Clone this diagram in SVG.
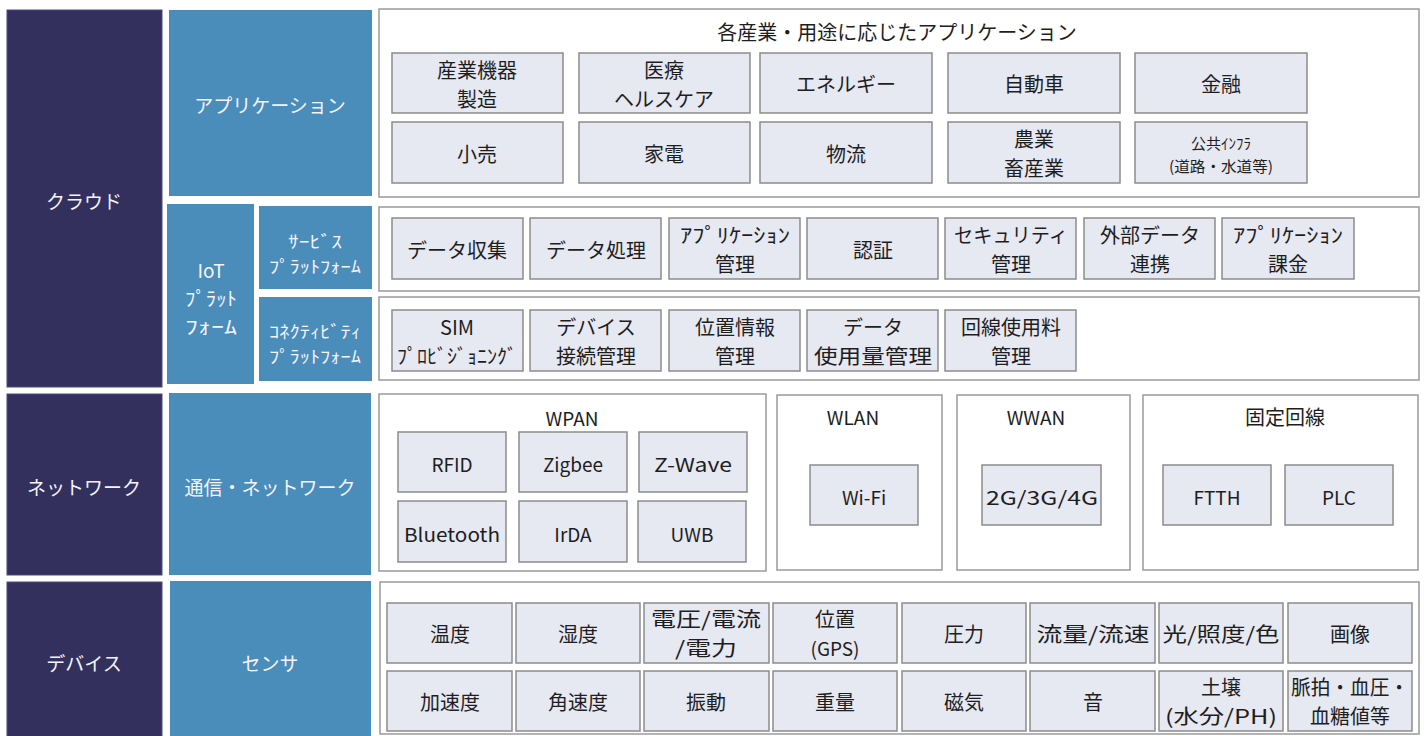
<svg xmlns="http://www.w3.org/2000/svg" width="1425" height="736" viewBox="0 0 1425 736">
<style>
.nav{fill:#33305e;stroke:#4d4a7c;stroke-width:1}
.blu{fill:#4a8cba}
.con{fill:#ffffff;stroke:#9a9a9a;stroke-width:1.5}
.btn{fill:#e6e8f2;stroke:#8c8c8c;stroke-width:1.5}
text{font-family:"Noto Sans CJK JP","Noto Sans",sans-serif;text-anchor:middle;dominant-baseline:central}
.w{fill:#f4f3fb;font-size:19px}
.ws{fill:#f4f3fb;font-size:17px}
.k{fill:#1e1e1e;font-size:20px}
.ks{fill:#1e1e1e;font-size:15px}
.kl{fill:#1e1e1e;font-size:19px}
</style>
<rect x="0" y="0" width="1425" height="736" fill="#ffffff"/>

<g id="layer-cloud">
  <rect class="nav" x="7" y="10" width="155" height="377"/>
  <text class="w" x="84" y="200">クラウド</text>
</g>
<g id="layer-network">
  <rect class="nav" x="7" y="394" width="155" height="181"/>
  <text class="w" x="84" y="486">ネットワーク</text>
</g>
<g id="layer-device">
  <rect class="nav" x="7" y="582" width="155" height="160"/>
  <text class="w" x="84" y="662">デバイス</text>
</g>

<g id="cat-application">
  <rect class="blu" x="169" y="10" width="203" height="186"/>
  <text class="w" x="270" y="104">アプリケーション</text>
</g>
<g id="cat-iot-platform">
  <rect class="blu" x="167" y="204" width="87" height="180"/>
  <text class="w" x="211" y="269">IoT</text>
  <text class="w" x="211" y="297" textLength="52" lengthAdjust="spacingAndGlyphs">ﾌﾟﾗｯﾄ</text>
  <text class="w" x="211" y="325" textLength="52" lengthAdjust="spacingAndGlyphs">ﾌｫｰﾑ</text>
</g>
<g id="cat-service-platform">
  <rect class="blu" x="259" y="206" width="113" height="83"/>
  <text class="ws" x="315" y="240" textLength="54" lengthAdjust="spacingAndGlyphs">ｻｰﾋﾞｽ</text>
  <text class="ws" x="315" y="265" textLength="92" lengthAdjust="spacingAndGlyphs">ﾌﾟﾗｯﾄﾌｫｰﾑ</text>
</g>
<g id="cat-connectivity-platform">
  <rect class="blu" x="259" y="297" width="113" height="84"/>
  <text class="ws" x="315" y="330" textLength="92" lengthAdjust="spacingAndGlyphs">ｺﾈｸﾃｨﾋﾞﾃｨ</text>
  <text class="ws" x="315" y="355" textLength="92" lengthAdjust="spacingAndGlyphs">ﾌﾟﾗｯﾄﾌｫｰﾑ</text>
</g>
<g id="cat-communication">
  <rect class="blu" x="169" y="393" width="202" height="182"/>
  <text class="w" x="270" y="486">通信・ネットワーク</text>
</g>
<g id="cat-sensor">
  <rect class="blu" x="170" y="581" width="201" height="160"/>
  <text class="w" x="270" y="662">センサ</text>
</g>

<g id="apps">
  <rect class="con" x="379" y="9" width="1040" height="188"/>
  <text class="k" x="897" y="31">各産業・用途に応じたアプリケーション</text>
  <g id="app-manufacturing"><rect class="btn" x="392" y="53" width="171" height="60"/><text class="k" x="477" y="69">産業機器</text><text class="k" x="477" y="98">製造</text></g>
  <g id="app-medical"><rect class="btn" x="579" y="53" width="171" height="60"/><text class="k" x="664" y="69">医療</text><text class="k" x="664" y="98">ヘルスケア</text></g>
  <g id="app-energy"><rect class="btn" x="760" y="53" width="172" height="60"/><text class="k" x="846" y="83">エネルギー</text></g>
  <g id="app-auto"><rect class="btn" x="948" y="53" width="172" height="60"/><text class="k" x="1034" y="83">自動車</text></g>
  <g id="app-finance"><rect class="btn" x="1135" y="53" width="172" height="60"/><text class="k" x="1221" y="83">金融</text></g>
  <g id="app-retail"><rect class="btn" x="392" y="122" width="171" height="61"/><text class="k" x="477" y="153">小売</text></g>
  <g id="app-appliance"><rect class="btn" x="579" y="122" width="171" height="61"/><text class="k" x="664" y="153">家電</text></g>
  <g id="app-logistics"><rect class="btn" x="760" y="122" width="172" height="61"/><text class="k" x="846" y="153">物流</text></g>
  <g id="app-agri"><rect class="btn" x="948" y="122" width="172" height="61"/><text class="k" x="1034" y="138">農業</text><text class="k" x="1034" y="167">畜産業</text></g>
  <g id="app-infra"><rect class="btn" x="1135" y="122" width="172" height="61"/><text class="ks" x="1221" y="142">公共ｲﾝﾌﾗ</text><text class="ks" x="1221" y="165" textLength="104" lengthAdjust="spacingAndGlyphs">(道路・水道等)</text></g>
</g>

<g id="service-platform">
  <rect class="con" x="379" y="207" width="1040" height="84"/>
  <g id="svc-collect"><rect class="btn" x="392" y="218" width="131" height="61"/><text class="k" x="457" y="249" font-size="21">データ収集</text></g>
  <g id="svc-process"><rect class="btn" x="530" y="218" width="131" height="61"/><text class="k" x="596" y="249" font-size="21">データ処理</text></g>
  <g id="svc-appmgmt"><rect class="btn" x="669" y="218" width="131" height="61"/><text class="k" x="735" y="234" textLength="110" lengthAdjust="spacingAndGlyphs">ｱﾌﾟﾘｹｰｼｮﾝ</text><text class="k" x="735" y="263">管理</text></g>
  <g id="svc-auth"><rect class="btn" x="807" y="218" width="131" height="61"/><text class="k" x="873" y="249" font-size="21">認証</text></g>
  <g id="svc-security"><rect class="btn" x="945" y="218" width="131" height="61"/><text class="k" x="1011" y="234" textLength="114" lengthAdjust="spacingAndGlyphs">セキュリティ</text><text class="k" x="1011" y="263">管理</text></g>
  <g id="svc-external"><rect class="btn" x="1084" y="218" width="131" height="61"/><text class="k" x="1150" y="234">外部データ</text><text class="k" x="1150" y="263">連携</text></g>
  <g id="svc-billing"><rect class="btn" x="1222" y="218" width="132" height="61"/><text class="k" x="1288" y="234" textLength="110" lengthAdjust="spacingAndGlyphs">ｱﾌﾟﾘｹｰｼｮﾝ</text><text class="k" x="1288" y="263">課金</text></g>
</g>

<g id="connectivity-platform">
  <rect class="con" x="379" y="297" width="1040" height="83"/>
  <g id="con-sim"><rect class="btn" x="392" y="310" width="131" height="61"/><text class="k" x="457" y="326">SIM</text><text class="k" x="457" y="355" textLength="120" lengthAdjust="spacingAndGlyphs">ﾌﾟﾛﾋﾞｼﾞｮﾆﾝｸﾞ</text></g>
  <g id="con-device"><rect class="btn" x="530" y="310" width="131" height="61"/><text class="k" x="596" y="326">デバイス</text><text class="k" x="596" y="355">接続管理</text></g>
  <g id="con-location"><rect class="btn" x="669" y="310" width="131" height="61"/><text class="k" x="735" y="326">位置情報</text><text class="k" x="735" y="355">管理</text></g>
  <g id="con-usage"><rect class="btn" x="807" y="310" width="131" height="61"/><text class="k" x="873" y="326">データ</text><text class="k" x="873" y="355" textLength="118" lengthAdjust="spacingAndGlyphs">使用量管理</text></g>
  <g id="con-fee"><rect class="btn" x="945" y="310" width="131" height="61"/><text class="k" x="1011" y="326">回線使用料</text><text class="k" x="1011" y="355">管理</text></g>
</g>

<g id="wpan">
  <rect class="con" x="379" y="394" width="387" height="177"/>
  <text class="kl" x="572" y="417">WPAN</text>
  <g id="n-rfid"><rect class="btn" x="398" y="432" width="108" height="60"/><text class="kl" x="452" y="463">RFID</text></g>
  <g id="n-zigbee"><rect class="btn" x="519" y="432" width="108" height="60"/><text class="kl" x="573" y="463">Zigbee</text></g>
  <g id="n-zwave"><rect class="btn" x="639" y="432" width="108" height="60"/><text class="kl" x="693" y="463" textLength="78" lengthAdjust="spacingAndGlyphs">Z-Wave</text></g>
  <g id="n-bluetooth"><rect class="btn" x="398" y="501" width="108" height="61"/><text class="kl" x="452" y="533" textLength="96" lengthAdjust="spacingAndGlyphs">Bluetooth</text></g>
  <g id="n-irda"><rect class="btn" x="519" y="501" width="108" height="61"/><text class="kl" x="573" y="533">IrDA</text></g>
  <g id="n-uwb"><rect class="btn" x="638" y="501" width="108" height="61"/><text class="kl" x="692" y="533">UWB</text></g>
</g>
<g id="wlan">
  <rect class="con" x="777" y="395" width="165" height="175"/>
  <text class="kl" x="853" y="416">WLAN</text>
  <g id="n-wifi"><rect class="btn" x="810" y="465" width="108" height="60"/><text class="kl" x="864" y="496">Wi-Fi</text></g>
</g>
<g id="wwan">
  <rect class="con" x="957" y="395" width="173" height="175"/>
  <text class="kl" x="1036" y="416">WWAN</text>
  <g id="n-cell"><rect class="btn" x="982" y="465" width="119" height="60"/><text class="kl" x="1042" y="496" textLength="112" lengthAdjust="spacingAndGlyphs">2G/3G/4G</text></g>
</g>
<g id="fixed">
  <rect class="con" x="1143" y="395" width="275" height="175"/>
  <text class="k" x="1285" y="416" font-size="21">固定回線</text>
  <g id="n-ftth"><rect class="btn" x="1163" y="465" width="108" height="60"/><text class="kl" x="1217" y="496">FTTH</text></g>
  <g id="n-plc"><rect class="btn" x="1285" y="465" width="108" height="60"/><text class="kl" x="1339" y="496">PLC</text></g>
</g>

<g id="sensors">
  <rect class="con" x="380" y="582" width="1039" height="152"/>
  <g id="s-temp"><rect class="btn" x="387" y="603" width="125" height="60"/><text class="k" x="450" y="633" font-size="21">温度</text></g>
  <g id="s-humid"><rect class="btn" x="516" y="603" width="124" height="60"/><text class="k" x="578" y="633" font-size="21">湿度</text></g>
  <g id="s-volt"><rect class="btn" x="644" y="603" width="125" height="60"/><text class="k" x="706" y="618" textLength="110" lengthAdjust="spacingAndGlyphs">電圧/電流</text><text class="k" x="706" y="647" textLength="62" lengthAdjust="spacingAndGlyphs">/電力</text></g>
  <g id="s-pos"><rect class="btn" x="773" y="603" width="124" height="60"/><text class="k" x="835" y="618">位置</text><text class="kl" x="835" y="647">(GPS)</text></g>
  <g id="s-press"><rect class="btn" x="902" y="603" width="124" height="60"/><text class="k" x="964" y="633" font-size="21">圧力</text></g>
  <g id="s-flow"><rect class="btn" x="1030" y="603" width="125" height="60"/><text class="k" x="1093" y="633" textLength="113" lengthAdjust="spacingAndGlyphs">流量/流速</text></g>
  <g id="s-light"><rect class="btn" x="1159" y="603" width="124" height="60"/><text class="k" x="1221" y="633" textLength="117" lengthAdjust="spacingAndGlyphs">光/照度/色</text></g>
  <g id="s-image"><rect class="btn" x="1288" y="603" width="124" height="60"/><text class="k" x="1350" y="633" font-size="21">画像</text></g>
  <g id="s-accel"><rect class="btn" x="387" y="671" width="125" height="60"/><text class="k" x="450" y="701" font-size="21">加速度</text></g>
  <g id="s-gyro"><rect class="btn" x="516" y="671" width="124" height="60"/><text class="k" x="578" y="701" font-size="21">角速度</text></g>
  <g id="s-vib"><rect class="btn" x="644" y="671" width="125" height="60"/><text class="k" x="706" y="701" font-size="21">振動</text></g>
  <g id="s-weight"><rect class="btn" x="773" y="671" width="124" height="60"/><text class="k" x="835" y="701" font-size="21">重量</text></g>
  <g id="s-mag"><rect class="btn" x="902" y="671" width="124" height="60"/><text class="k" x="964" y="701" font-size="21">磁気</text></g>
  <g id="s-sound"><rect class="btn" x="1030" y="671" width="125" height="60"/><text class="k" x="1093" y="701" font-size="21">音</text></g>
  <g id="s-soil"><rect class="btn" x="1159" y="671" width="124" height="60"/><text class="k" x="1221" y="686">土壌</text><text class="k" x="1221" y="715" textLength="112" lengthAdjust="spacingAndGlyphs">(水分/PH)</text></g>
  <g id="s-vital"><rect class="btn" x="1288" y="671" width="124" height="60"/><text class="k" x="1350" y="686" textLength="118" lengthAdjust="spacingAndGlyphs">脈拍・血圧・</text><text class="k" x="1350" y="715">血糖値等</text></g>
</g>

<g id="connectors"></g>
</svg>
